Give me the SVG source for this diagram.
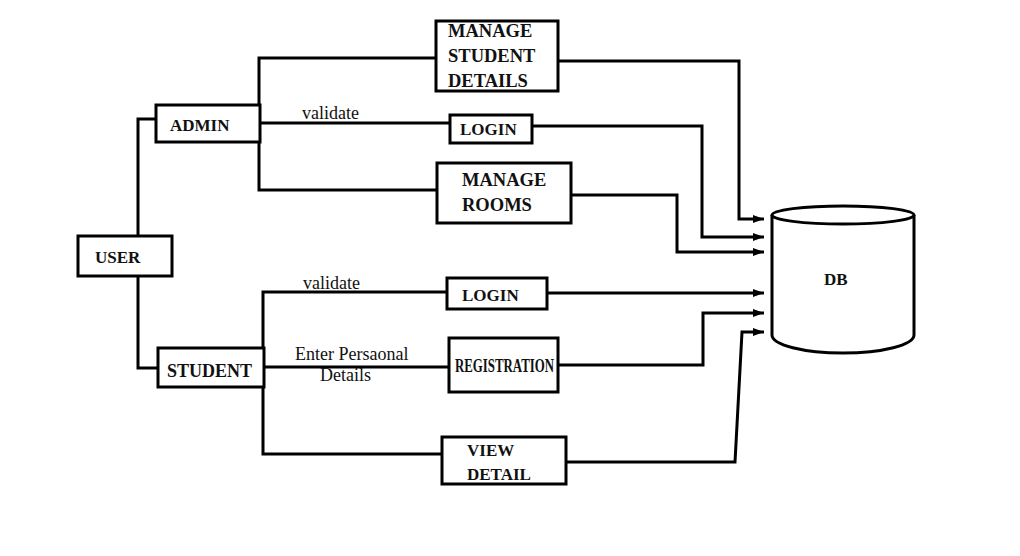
<svg xmlns="http://www.w3.org/2000/svg" width="1020" height="556" viewBox="0 0 1020 556">
<style>
.box{fill:#fff;stroke:#000;stroke-width:3}
.lbl{font-family:"Liberation Serif","Times New Roman",serif;font-weight:bold;font-size:17px;fill:#111}
.edge{font-family:"Liberation Serif","Times New Roman",serif;font-size:18px;fill:#111}
.ln{fill:none;stroke:#000;stroke-width:3}
</style>
<defs>
<marker id="ah" markerUnits="userSpaceOnUse" markerWidth="12" markerHeight="10" refX="11" refY="5" orient="auto">
<path d="M0,1 L11,5 L0,9 Z" fill="#000"/>
</marker>
</defs>
<rect width="1020" height="556" fill="#fff"/>
<g id="connectors">
<polyline class="ln" points="138,236 138,119 156,119"/>
<polyline class="ln" points="138,276 138,368 158,368"/>
<polyline class="ln" points="436,58 259,58 259,190 437,190"/>
<line class="ln" x1="260" y1="123" x2="450" y2="123"/>
<polyline class="ln" points="447,292 263,292 263,454 442,454"/>
<line class="ln" x1="264" y1="367" x2="449" y2="367"/>
<polyline class="ln" points="558,61 739,61 739,219 764,219" marker-end="url(#ah)"/>
<polyline class="ln" points="532,126 702,126 702,237 764,237" marker-end="url(#ah)"/>
<polyline class="ln" points="571,195 677,195 677,252 764,252" marker-end="url(#ah)"/>
<polyline class="ln" points="547,293 764,293" marker-end="url(#ah)"/>
<polyline class="ln" points="558,365 703,365 703,313 764,313" marker-end="url(#ah)"/>
<polyline class="ln" points="566,462 735,462 742,332 764,332" marker-end="url(#ah)"/>
<text class="edge" x="302" y="119">validate</text>
<text class="edge" x="303" y="289">validate</text>
<text class="edge" x="295" y="360">Enter Persaonal</text>
<text class="edge" x="320" y="381">Details</text>
</g>
<g id="user">
<rect class="box" x="78" y="236" width="94" height="40"/>
<text class="lbl" x="95" y="263" font-size="18">USER</text>
</g>
<g id="admin">
<rect class="box" x="156" y="105" width="104" height="37"/>
<text class="lbl" x="170" y="131">ADMIN</text>
</g>
<g id="student">
<rect class="box" x="158" y="348" width="106" height="39"/>
<text class="lbl" x="167" y="377" style="font-size:18px">STUDENT</text>
</g>
<g id="manage-student-details">
<rect class="box" x="436" y="21" width="122" height="70"/>
<text class="lbl" x="448" y="37" style="font-size:18.5px">MANAGE</text>
<text class="lbl" x="448" y="62" style="font-size:18.5px">STUDENT</text>
<text class="lbl" x="448" y="87" style="font-size:18.5px">DETAILS</text>
</g>
<g id="admin-login">
<rect class="box" x="450" y="115" width="82" height="28"/>
<text class="lbl" x="460" y="135">LOGIN</text>
</g>
<g id="manage-rooms">
<rect class="box" x="437" y="163" width="134" height="60"/>
<text class="lbl" x="462" y="186" style="font-size:18.5px">MANAGE</text>
<text class="lbl" x="462" y="211" style="font-size:18.5px">ROOMS</text>
</g>
<g id="student-login">
<rect class="box" x="447" y="278" width="100" height="31"/>
<text class="lbl" x="462" y="301">LOGIN</text>
</g>
<g id="registration">
<rect class="box" x="449" y="338" width="109" height="54"/>
<text class="lbl" x="455" y="372" style="font-size:18px" textLength="99" lengthAdjust="spacingAndGlyphs">REGISTRATION</text>
</g>
<g id="view-detail">
<rect class="box" x="442" y="437" width="124" height="47"/>
<text class="lbl" x="467" y="456">VIEW</text>
<text class="lbl" x="467" y="480">DETAIL</text>
</g>
<g id="db">
<path class="box" d="M772,215 L772,335 A71,18 0 0 0 914,335 L914,215"/>
<ellipse class="box" cx="843" cy="215" rx="71" ry="9"/>
<text class="lbl" x="824" y="285">DB</text>
</g>
</svg>
